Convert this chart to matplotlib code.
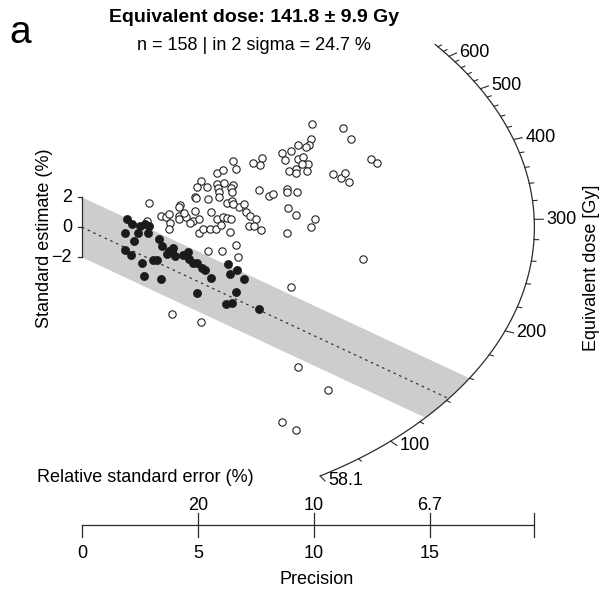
import numpy as np
import matplotlib
matplotlib.use("Agg")
import matplotlib.pyplot as plt
from matplotlib.patches import Polygon

plt.rcParams['font.family'] = ['Liberation Sans', 'DejaVu Sans']

# ---------------- data ----------------
open_precision = [6.52,5.81,6.09,6.64,5.12,4.97,5.40,5.83,6.12,6.50,
                  6.42,5.88,5.92,6.45,4.88,4.91,5.44,5.89,6.24,6.45,
                  6.78,2.88,4.22,4.19,4.87,5.56,3.39,3.62,3.76,4.17,
                  4.19,4.48,4.77,5.83,6.06,6.24,6.44,5.03,3.79,2.79,
                  4.40,4.66,5.06,5.23,5.52,5.78,5.99,6.38,6.63,6.74,
                  5.44,6.02,3.76,3.89,5.12,7.07,6.98,7.24,7.50,7.21,
                  7.41,7.70,6.51,9.90,11.26,11.58,9.87,9.78,9.66,9.32,
                  9.01,8.63,8.75,9.32,9.54,9.75,9.47,9.22,8.91,9.22,
                  9.70,7.77,7.67,7.36,12.44,12.70,10.83,11.16,11.35,11.51,
                  7.64,8.06,8.22,8.82,8.84,9.25,8.87,9.22,10.04,9.87,
                  8.82,12.13,9.00,9.32,10.59,8.61,9.22]
open_z = [4.44,3.60,3.82,3.87,3.09,2.71,2.71,2.89,2.93,2.82,
          2.65,2.60,2.37,2.37,2.04,1.93,1.87,2.00,1.60,1.77,
          1.37,1.64,1.49,1.33,1.11,1.04,0.75,0.71,0.89,0.75,
          0.53,0.71,0.44,0.53,0.71,0.60,0.57,0.53,0.27,0.44,
          0.93,0.27,-0.36,-0.13,-0.13,-0.13,0.15,-0.29,-1.18,-2.00,
          -1.56,-1.56,-0.13,-5.80,-6.31,1.04,1.55,0.75,0.57,0.09,
          0.09,-0.18,1.55,6.87,6.60,5.87,5.87,5.49,5.33,5.49,
          5.11,4.93,4.49,4.57,4.67,4.22,4.22,3.91,3.77,3.60,
          3.77,4.60,4.15,4.27,4.55,4.27,3.53,3.31,3.64,3.00,
          2.47,2.09,2.22,2.55,2.37,2.37,1.27,0.82,0.53,0.04,
          -0.40,-2.13,-3.96,-9.29,-10.85,-12.96,-13.51]
filled_precision = [1.95,2.14,1.84,1.84,2.10,2.24,2.43,2.57,2.69,2.50,
                    2.72,2.89,2.86,3.34,3.43,3.66,3.88,3.94,4.00,4.34,
                    4.58,4.63,4.78,4.94,5.16,5.32,5.58,4.94,6.31,6.38,
                    6.67,6.63,6.99,6.19,6.45,7.63,3.04,3.23,3.41,3.77]
filled_z = [0.57,0.22,-0.40,-1.51,-1.87,-0.89,-0.36,-2.36,-3.25,0.12,
            0.19,0.09,-0.41,-0.77,-1.23,-1.75,-1.58,-1.40,-1.91,-1.85,
            -1.65,-2.11,-2.40,-2.40,-2.73,-2.83,-3.35,-4.40,-2.47,-3.11,
            -2.87,-4.29,-3.46,-5.11,-5.05,-5.45,-2.20,-2.15,-3.43,-1.61]

de_central = 141.8
de_central_err = 9.9
de_reference = 292.0          # De at standard estimate = 0
n_total = 158
pct_in_2sigma = 24.7
precision_max = 19.5
de_limits = [58.1, 650.0]
de_major_ticks = [58.1, 100, 200, 300, 400, 500, 600]
de_minor_ticks = [80, 120, 140, 160, 180, 220, 240, 260, 280, 320, 340, 360,
                  380, 420, 440, 460, 480, 520, 540, 560, 580, 620, 640]
precision_ticks = [0, 5, 10, 15]
z_ticks = [-2, 0, 2]

# ---------------- layout ----------------
W, H = 607, 590
X0, Y0 = 82.0, 227.3      # pixel of origin
SX, SZ = 23.2, 15.0       # pixels per unit

fig = plt.figure(figsize=(W / 100, H / 100), dpi=100)
ax = fig.add_axes([0, 0, 1, 1])
ax.set_xlim(-X0 / SX, (W - X0) / SX)
ax.set_ylim((Y0 - H) / SZ, Y0 / SZ)
ax.axis('off')

def pz(py):
    return (Y0 - py) / SZ

def px(x):
    return (x - X0) / SX

R = precision_max
FS = 13
INK = '#2b2b2b'

def slope(de):
    return np.log(de / de_reference)

def arc_point(de, r=R):
    s = slope(de)
    x = r / np.sqrt(1 + s ** 2)
    return x, s * x

# grey 2-sigma band
sc = slope(de_central)
def line_circle(c):
    a = 1 + sc ** 2
    b = 2 * sc * c
    cc = c ** 2 - R ** 2
    x = (-b + np.sqrt(b * b - 4 * a * cc)) / (2 * a)
    return x, sc * x + c

xu, zu = line_circle(2)
xl, zl = line_circle(-2)
au = np.arctan2(zu, xu)
al = np.arctan2(zl, xl)
angs = np.linspace(au, al, 50)
poly = [(0, 2), (xu, zu)] + [(R * np.cos(a), R * np.sin(a)) for a in angs] + [(xl, zl), (0, -2)]
ax.add_patch(Polygon(poly, closed=True, facecolor='#cdcdcd', edgecolor='none', zorder=1))

# central line
xc, zc = arc_point(de_central)
ax.plot([0, xc], [0, zc], color='#333333', lw=0.9, ls=(0, (2, 3)), zorder=2)

# points
ax.scatter(open_precision, open_z, s=28, facecolors='white', edgecolors='#222222',
           linewidths=0.8, zorder=3)
ax.scatter(filled_precision, filled_z, s=34, facecolors='#1a1a1a', edgecolors='#1a1a1a',
           linewidths=0.5, zorder=3)

# arc
des = np.exp(np.linspace(np.log(de_limits[0]), np.log(de_limits[1]), 300))
arc = np.array([arc_point(d) for d in des])
ax.plot(arc[:, 0], arc[:, 1], color=INK, lw=0.9, zorder=2)
for d in de_minor_ticks:
    x1, z1 = arc_point(d)
    x2, z2 = arc_point(d, R * 1.01)
    ax.plot([x1, x2], [z1, z2], color=INK, lw=0.8)
for d in de_major_ticks:
    x1, z1 = arc_point(d)
    x2, z2 = arc_point(d, R * 1.02)
    ax.plot([x1, x2], [z1, z2], color=INK, lw=0.8)
    ax.text(x2 + 3 / SX, z2, f"{d:g}", ha='left', va='center', fontsize=FS)
ax.text(px(592), pz(268), "Equivalent dose [Gy]", rotation=90, ha='center', va='center', fontsize=FS)

# y axis (standard estimate)
ax.plot([0, 0], [min(z_ticks), max(z_ticks)], color=INK, lw=0.9)
for t in z_ticks:
    ax.plot([0, -4 / SX], [t, t], color=INK, lw=0.9)
    ax.text(-10 / SX, t, f"{t:d}".replace('-', '\u2212'), ha='right', va='center', fontsize=FS)
ax.text(px(44), pz(238), "Standard estimate (%)", rotation=90, ha='center', va='center', fontsize=FS)

# precision axis
yax = pz(525)
ax.plot([0, precision_max], [yax, yax], color=INK, lw=0.9)
ax.plot([0, 0], [yax, pz(537)], color=INK, lw=0.9)
for t in precision_ticks[1:] + [precision_max]:
    ax.plot([t, t], [pz(513), pz(537)], color=INK, lw=0.9)
for t in precision_ticks:
    ax.text(t, pz(553), f"{t:d}", ha='center', va='center', fontsize=FS)
for t in precision_ticks[1:]:
    ax.text(t, pz(505), f"{100 / t:.2g}", ha='center', va='center', fontsize=FS)
ax.text(px(317), pz(580), "Precision", ha='center', va='center', fontsize=FS)
ax.text(px(37), pz(478), "Relative standard error (%)", ha='left', va='center', fontsize=FS)

# titles
fig.text(254 / W, 1 - 18 / H, f"Equivalent dose: {de_central} \u00b1 {de_central_err} Gy",
         ha='center', va='center', fontsize=14, fontweight='bold')
fig.text(254 / W, 1 - 45 / H, f"n = {n_total} | in 2 sigma = {pct_in_2sigma} %",
         ha='center', va='center', fontsize=FS)
fig.text(20 / W, 1 - 33 / H, "a", ha='center', va='center', fontsize=28)

fig.savefig("out.png", dpi=100)
